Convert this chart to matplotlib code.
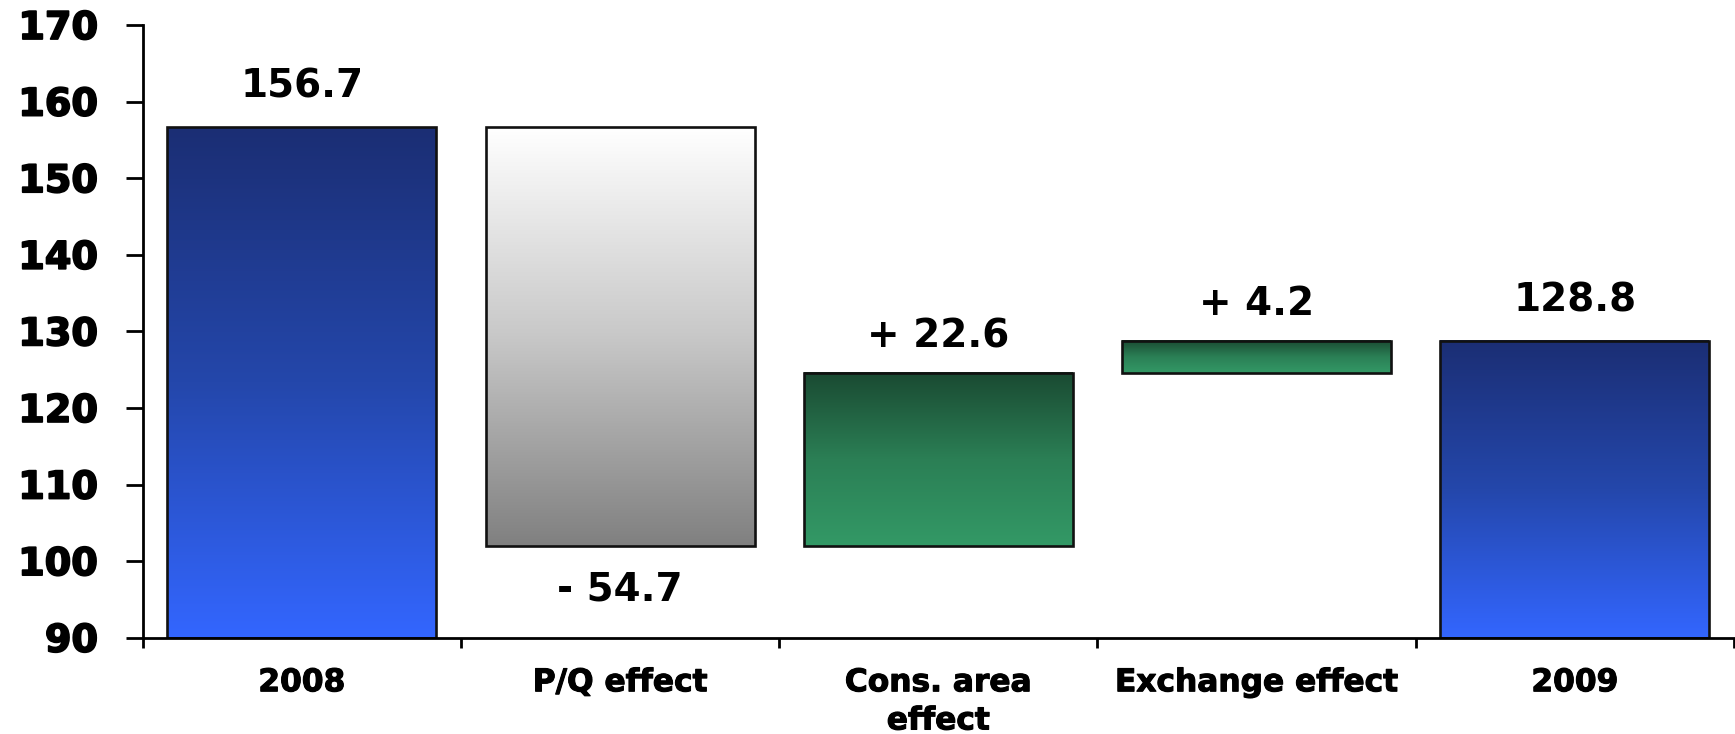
import numpy as np
import matplotlib
matplotlib.use("Agg")
import matplotlib.pyplot as plt
import matplotlib.patheffects as pe
from matplotlib.colors import LinearSegmentedColormap

# Bridge data
categories = ["2008", "P/Q effect", "Cons. area\neffect", "Exchange effect", "2009"]
start_value = 156.7
changes = [-54.7, 22.6, 4.2]
end_value = 128.8
value_labels = ["156.7", "- 54.7", "+ 22.6", "+ 4.2", "128.8"]
y_ticks = [90, 100, 110, 120, 130, 140, 150, 160, 170]

Y_MIN, Y_MAX = 90, 170
BAR_W = 0.845

# Gradients, bottom colour -> top colour
cmap_total = LinearSegmentedColormap.from_list("total", ["#3366ff", "#2447ab", "#1b2e74"])
cmap_down = LinearSegmentedColormap.from_list("down", ["#808080", "#c8c8c8", "#ffffff"])
cmap_up = LinearSegmentedColormap.from_list("up", ["#339966", "#2b7f55", "#1a4a32"])

# Work out floating segments of the bridge
bottoms, tops, kinds = [Y_MIN], [start_value], ["total"]
running = start_value
for c in changes:
    new = running + c
    bottoms.append(min(running, new))
    tops.append(max(running, new))
    kinds.append("up" if c > 0 else "down")
    running = new
bottoms.append(Y_MIN)
tops.append(end_value)
kinds.append("total")
cmaps = {"total": cmap_total, "down": cmap_down, "up": cmap_up}

W, H = 1735, 734
fig = plt.figure(figsize=(W / 100, H / 100), dpi=100)
ax = fig.add_axes([142.7 / W, (H - 637.7) / H, (1734 - 142.7) / W, (637.7 - 25) / H])

x = np.arange(len(categories))
grad = np.linspace(0, 1, 256).reshape(-1, 1)
for xi, b, t, k in zip(x, bottoms, tops, kinds):
    ax.imshow(grad, extent=[xi - BAR_W / 2, xi + BAR_W / 2, b, t], origin="lower",
              cmap=cmaps[k], aspect="auto", interpolation="bicubic", zorder=1)
ax.bar(x, np.array(tops) - np.array(bottoms), bottom=bottoms, width=BAR_W,
       fill=False, edgecolor="#111111", linewidth=1.9, zorder=2)

# Value labels
for xi, b, t, k, lab in zip(x, bottoms, tops, kinds, value_labels):
    if k == "down":
        ax.annotate(lab, xy=(xi, b), xytext=(0, -18), textcoords="offset points",
                    ha="center", va="top", fontsize=28, fontweight="bold",
                    family="DejaVu Sans")
    else:
        off = 21 if k == "total" else 18.5
        ax.annotate(lab, xy=(xi, t), xytext=(0, off), textcoords="offset points",
                    ha="center", va="baseline", fontsize=28, fontweight="bold",
                    family="DejaVu Sans")

ax.set_xlim(-0.5, len(categories) - 0.5)
ax.set_ylim(Y_MIN, Y_MAX)

heavy = [pe.withStroke(linewidth=1.3, foreground="black")]

ax.set_yticks(y_ticks)
ax.set_yticklabels([str(v) for v in y_ticks], fontsize=27.5, fontweight="bold")
ax.tick_params(axis="y", direction="out", length=12, width=2, pad=20, color="black")
for lbl in ax.get_yticklabels():
    lbl.set_path_effects(heavy)

ax.set_xticks(x)
ax.set_xticklabels(categories, fontsize=22.5, fontweight="bold", linespacing=1.4)
ax.set_xticks(np.arange(-0.5, len(categories), 1.0), minor=True)
ax.tick_params(axis="x", which="major", length=0, pad=22)
ax.tick_params(axis="x", which="minor", direction="out", length=7.5, width=2, color="black")
for lbl in ax.get_xticklabels():
    lbl.set_path_effects([pe.withStroke(linewidth=0.8, foreground="black")])

for side in ("top", "right"):
    ax.spines[side].set_visible(False)
for side in ("left", "bottom"):
    ax.spines[side].set_linewidth(2)
    ax.spines[side].set_color("black")
ax.set_facecolor("white")

fig.savefig("out.png", dpi=100, facecolor="white")
